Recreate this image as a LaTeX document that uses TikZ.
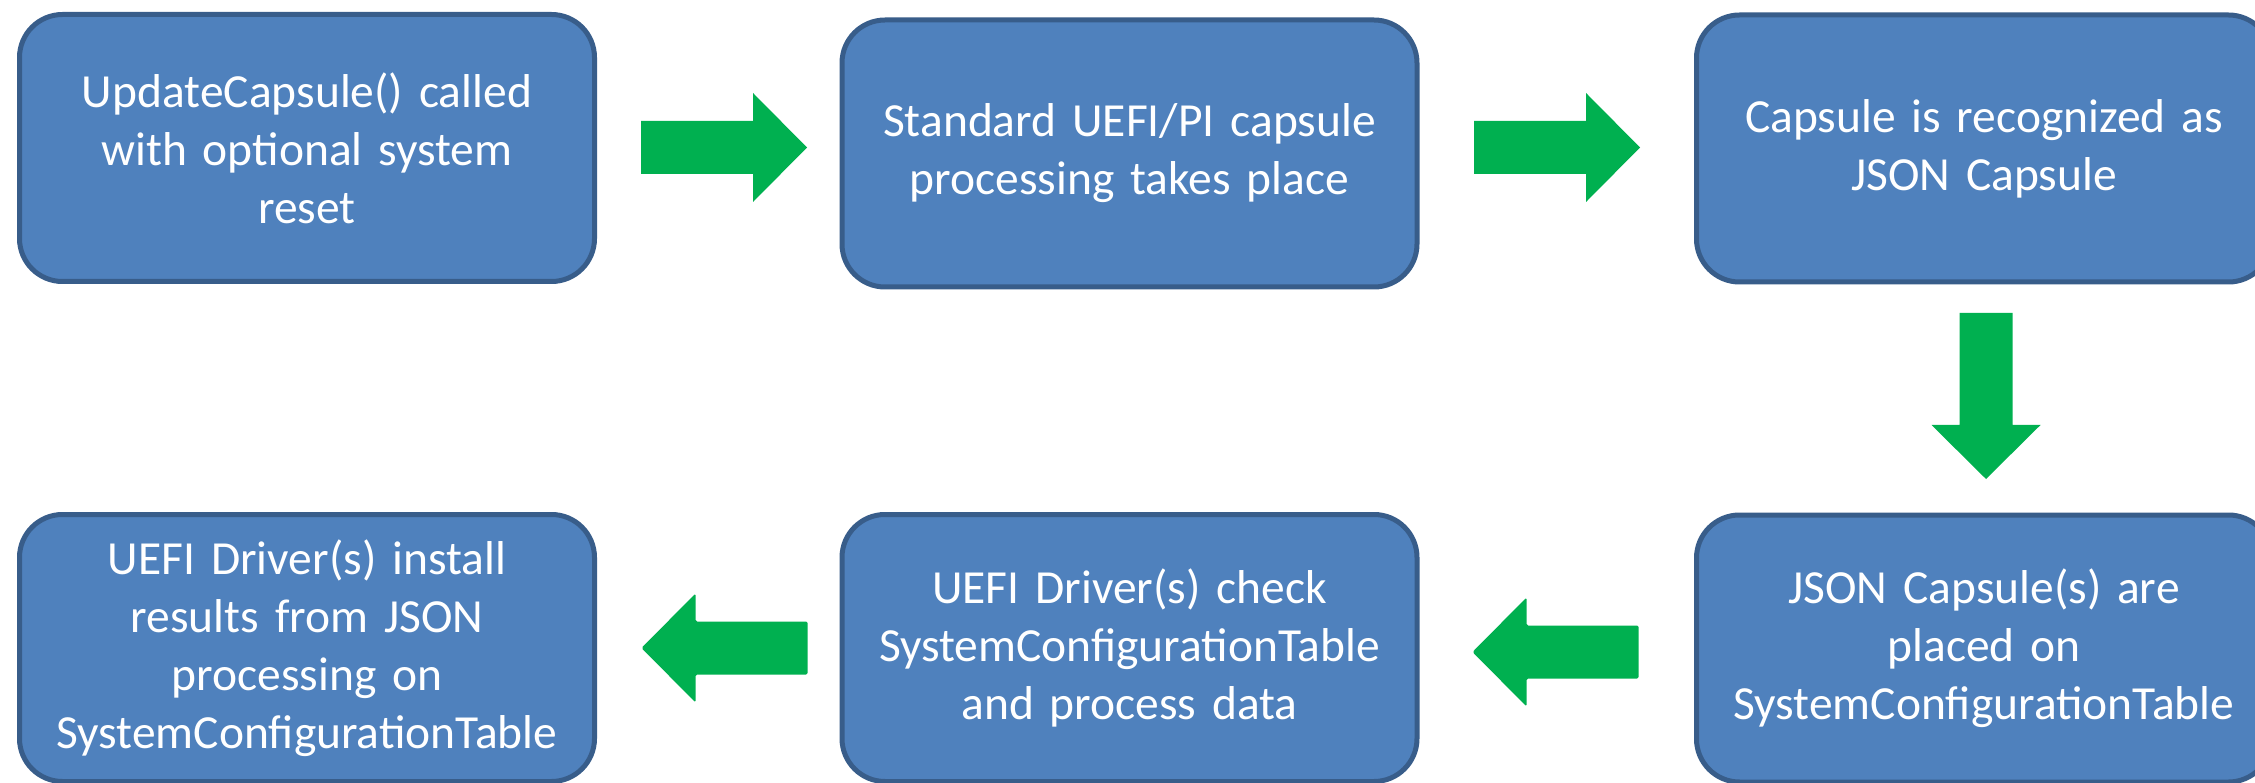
\documentclass[tikz,border=0pt]{standalone}
\usepackage{fontspec}
\setmainfont{Carlito}
\definecolor{boxfill}{HTML}{4F81BD}
\definecolor{boxline}{HTML}{385D8A}
\definecolor{arrowgreen}{HTML}{00B050}
\tikzset{
  stepbox/.style={draw=boxline, fill=boxfill, line width=5pt, rounded corners=43pt,
    minimum width=575pt, minimum height=267pt, inner sep=0pt,
    text=white, text width=560pt, align=center,
    font=\fontsize{47.5}{58}\selectfont},
  blockarrow/.pic={
    \fill[arrowgreen] (-83,-26.5) -- (29,-26.5) -- (29,-54.5) -- (83,0)
      -- (29,54.5) -- (29,26.5) -- (-83,26.5) -- cycle;
  }
}
\begin{document}
\begin{tikzpicture}[x=1pt, y=-1pt]
\useasboundingbox (0,0) rectangle (2255,783);
\clip (0,0) rectangle (2255,783);
\fill[white] (0,0) rectangle (2255,783);

\node[stepbox] (b1) at (307,148) {UpdateCapsule() called\\with optional system\\reset};
\node[stepbox] (b2) at (1129.5,153.5) {Standard UEFI/PI capsule\\processing takes place};
\node[stepbox] (b3) at (1984,148.5) {Capsule is recognized as\\JSON Capsule};
\node[stepbox] (b4) at (307,648) {UEFI Driver(s) install\\results from JSON\\processing on\\SystemConfigurationTable};
\node[stepbox] (b5) at (1129.5,648) {UEFI Driver(s) check\\SystemConfigurationTable\\and process data};
\node[stepbox] (b6) at (1984,648.5) {JSON Capsule(s) are\\placed on\\SystemConfigurationTable};

\pic (a1) at (724,147.5) {blockarrow};
\pic (a2) at (1557,147.5) {blockarrow};
\pic[rotate=-90] (a3) at (1986,396) {blockarrow};
\pic[rotate=180, rounded corners=1.5pt] (a4) at (1555.5,652) {blockarrow};
\pic[rotate=180, rounded corners=1.5pt] (a5) at (724.5,648) {blockarrow};
\end{tikzpicture}
\end{document}
